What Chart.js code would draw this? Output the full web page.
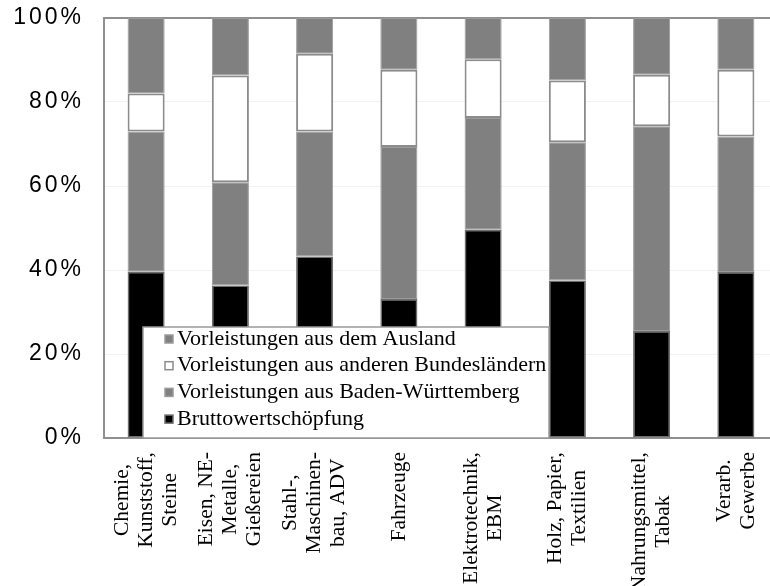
<!DOCTYPE html>
<html>
<head>
<meta charset="utf-8">
<script src="https://cdn.jsdelivr.net/npm/chart.js@4"></script>
<style>
  html, body { margin: 0; padding: 0; background: #fff; overflow: hidden; }
  #wrap { width: 780px; height: 586px; }
</style>
</head>
<body>
<div id="wrap"><canvas id="chart"></canvas></div>
<script>
// Werte (Anteile in %)
const categories = [
  ['Chemie,', 'Kunststoff,', 'Steine'],
  ['Eisen, NE-', 'Metalle,', 'Gießereien'],
  ['Stahl-,', 'Maschinen-', 'bau, ADV'],
  ['Fahrzeuge'],
  ['Elektrotechnik,', 'EBM'],
  ['Holz, Papier,', 'Textilien'],
  ['Nahrungsmittel,', 'Tabak'],
  ['Verarb.', 'Gewerbe']
];
const bruttowertschoepfung = [39.6, 36.3, 43.2, 33.1, 49.6, 37.5, 25.5, 39.5];
const vorleistungenBW      = [33.4, 24.6, 29.8, 36.2, 26.6, 32.9, 48.7, 32.3];
const vorleistungenAndere  = [9.0, 25.4, 18.5, 18.4, 14.0, 14.7, 12.3, 15.9];
const vorleistungenAusland = [18.0, 13.7, 8.5, 12.3, 9.8, 14.9, 13.5, 12.3];
const yTicks = [0, 20, 40, 60, 80, 100];
const yTickLabels = ['0%', '20%', '40%', '60%', '80%', '100%'];

const serif = '"Liberation Serif", "Times New Roman", serif';

// axis labels, frame and legend drawn by hand so they sit like the original
const drawExtras = {
  id: 'drawExtras',
  beforeDatasetsDraw(chart) {
    const { ctx, chartArea: a } = chart;
    ctx.save();
    ctx.strokeStyle = '#8f8f8f';
    ctx.lineWidth = 2;
    ctx.strokeRect(a.left, a.top, a.right - a.left, a.bottom - a.top);
    ctx.restore();
  },
  afterDraw(chart) {
    const { ctx, chartArea: a, scales } = chart;
    ctx.save();
    ctx.fillStyle = '#000';

    // y tick labels (sans, spaced out)
    ctx.font = '23px "Liberation Sans", Arial, sans-serif';
    ctx.letterSpacing = '3px';
    ctx.textAlign = 'right';
    ctx.textBaseline = 'middle';
    yTicks.forEach((v, i) => {
      const y = scales.y.getPixelForValue(v);
      ctx.fillText(yTickLabels[i], 84, y);
    });
    ctx.letterSpacing = '0px';

    // x labels, rotated, lines centred in block
    ctx.font = '21.5px ' + serif;
    categories.forEach((lines, i) => {
      const x = scales.x.getPixelForValue(i);
      const maxW = Math.max(...lines.map(l => ctx.measureText(l).width));
      ctx.save();
      ctx.translate(x, a.bottom + 14);
      ctx.rotate(-Math.PI / 2);
      ctx.textAlign = 'center';
      ctx.textBaseline = 'middle';
      lines.forEach((l, j) => {
        ctx.fillText(l, -maxW / 2, (j - (lines.length - 1) / 2) * 24);
      });
      ctx.restore();
    });

    // legend box
    const lx = 143, ly = 327, lw = 406, lh = 111;
    ctx.fillStyle = '#fff';
    ctx.fillRect(lx, ly, lw, lh);
    ctx.strokeStyle = '#999';
    ctx.lineWidth = 1.5;
    ctx.strokeRect(lx, ly, lw, lh);

    const items = chart.data.datasets.slice().reverse();
    ctx.font = '22px ' + serif;
    ctx.textAlign = 'left';
    ctx.textBaseline = 'middle';
    items.forEach((ds, k) => {
      const cy = 339 + k * 26.7;
      ctx.fillStyle = ds.backgroundColor;
      ctx.fillRect(165, cy - 4, 8, 8);
      ctx.strokeStyle = ds.borderColor;
      ctx.lineWidth = 1.5;
      ctx.strokeRect(165, cy - 4, 8, 8);
      ctx.fillStyle = '#000';
      ctx.fillText(ds.label, 177, cy);
    });
    ctx.restore();
  }
};

const ctx = document.getElementById('chart').getContext('2d');
new Chart(ctx, {
  type: 'bar',
  data: {
    labels: categories.map(c => c.join(' ')),
    datasets: [
      { label: 'Bruttowertschöpfung', data: bruttowertschoepfung,
        backgroundColor: '#000000', borderColor: '#6e6e6e', borderWidth: 1.5 },
      { label: 'Vorleistungen aus Baden-Württemberg', data: vorleistungenBW,
        backgroundColor: '#808080', borderColor: '#9a9a9a', borderWidth: 1 },
      { label: 'Vorleistungen aus anderen Bundesländern', data: vorleistungenAndere,
        backgroundColor: '#ffffff', borderColor: '#8c8c8c', borderWidth: 2 },
      { label: 'Vorleistungen aus dem Ausland', data: vorleistungenAusland,
        backgroundColor: '#808080', borderColor: '#9a9a9a', borderWidth: 1 }
    ]
  },
  options: {
    responsive: true,
    maintainAspectRatio: false,
    animation: false,
    layout: { padding: { left: 104, top: 18, right: 2, bottom: 148 } },
    datasets: { bar: { barPercentage: 0.44, categoryPercentage: 1, borderSkipped: false } },
    scales: {
      x: {
        stacked: true,
        grid: { display: false, drawTicks: false },
        border: { display: false },
        ticks: { display: false }
      },
      y: {
        stacked: true,
        min: 0, max: 100,
        grid: { color: '#f2f2f2', drawTicks: false },
        border: { display: false },
        ticks: { display: false, stepSize: 20 }
      }
    },
    plugins: {
      legend: { display: false },
      tooltip: { enabled: false }
    }
  },
  plugins: [drawExtras]
});
</script>
</body>
</html>
